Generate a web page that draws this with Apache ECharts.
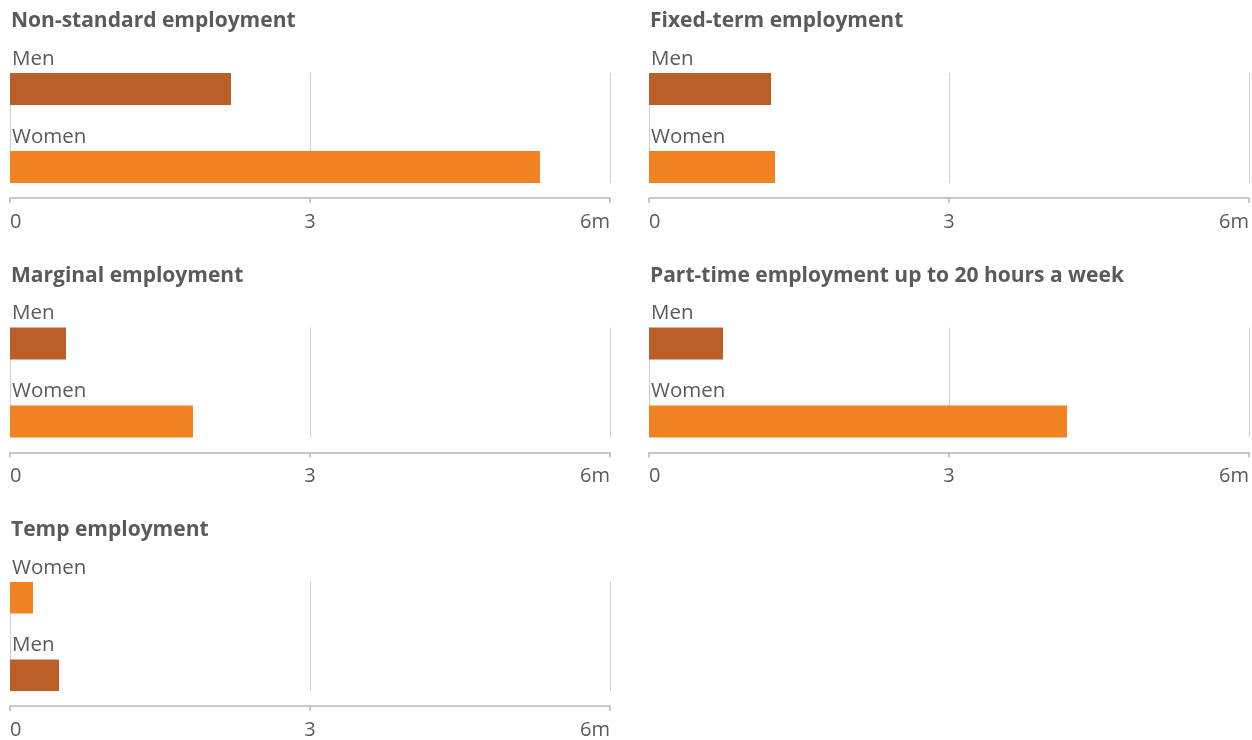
<!DOCTYPE html>
<html>
<head>
<meta charset="utf-8">
<script src="https://cdn.jsdelivr.net/npm/echarts@6/dist/echarts.min.js"></script>
<style>
  html, body { margin: 0; padding: 0; background: #ffffff; }
  #chart { width: 1252px; height: 740px; }
</style>
</head>
<body>
<div id="chart"></div>
<script>
// Non-standard employment in Germany, millions of people, by sex
const panelTitles = [
  'Non-standard employment',
  'Fixed-term employment',
  'Marginal employment',
  'Part-time employment up to 20 hours a week',
  'Temp employment'
];
const menValues   = [2.21, 1.22, 0.56, 0.74, 0.49];
const womenValues = [5.30, 1.26, 1.83, 4.18, 0.23];
// which group is listed first (top) in each panel
const firstGroup  = ['Men', 'Men', 'Men', 'Men', 'Women'];
const axisTicks   = [0, 3, 6];
const axisUnit    = 'm';

const FONT = '"Open Sans", sans-serif';
const TEXT = '#5a5a5a';
const COLORS = { Men: '#ba5f28', Women: '#f28322' };

const grids = [], xAxes = [], yAxes = [], series = [], titles = [];

panelTitles.forEach((t, i) => {
  const col = i % 2, row = Math.floor(i / 2);
  const left = 10 + col * 639;
  const top = 73 + row * 254.5;
  grids.push({ left: left, top: top, width: 600, height: 110, containLabel: false });
  titles.push({
    text: t, left: left + 1, top: top - 62, padding: 0,
    textStyle: { fontFamily: FONT, fontSize: 21, fontWeight: 'bold', color: TEXT }
  });
  xAxes.push({
    type: 'value', gridIndex: i,
    min: axisTicks[0], max: axisTicks[axisTicks.length - 1],
    interval: axisTicks[1] - axisTicks[0],
    offset: 15,
    axisLine: { show: true, lineStyle: { color: '#b6b6ba', width: 1.5 } },
    axisTick: { show: true, length: 5, lineStyle: { color: '#b6b6ba', width: 1.5 } },
    axisLabel: {
      fontFamily: FONT, fontSize: 20, color: TEXT, margin: 14,
      alignMinLabel: 'left', alignMaxLabel: 'right',
      formatter: v => (v === axisTicks[axisTicks.length - 1] ? v + axisUnit : String(v))
    },
    splitLine: { show: true, lineStyle: { color: '#cfcfcf', width: 1 } }
  });
  yAxes.push({
    type: 'category', gridIndex: i, data: [''], inverse: true,
    axisLine: { show: false }, axisTick: { show: false }, axisLabel: { show: false },
    splitLine: { show: false }
  });
  const order = firstGroup[i] === 'Men' ? ['Men', 'Women'] : ['Women', 'Men'];
  order.forEach(name => {
    const v = name === 'Men' ? menValues[i] : womenValues[i];
    series.push({
      type: 'bar', name: name, xAxisIndex: i, yAxisIndex: i,
      data: [v], barWidth: 32, barGap: '143.75%',
      itemStyle: { color: COLORS[name] },
      label: {
        show: true, position: [2, -14], verticalAlign: 'middle', align: 'left',
        formatter: '{a}', fontFamily: FONT, fontSize: 20.5, color: TEXT
      },
      silent: true, animation: false
    });
  });
});

const chart = echarts.init(document.getElementById('chart'), null, { renderer: 'canvas' });
chart.setOption({
  backgroundColor: '#ffffff',
  animation: false,
  title: titles,
  grid: grids,
  xAxis: xAxes,
  yAxis: yAxes,
  series: series
});
</script>
</body>
</html>
